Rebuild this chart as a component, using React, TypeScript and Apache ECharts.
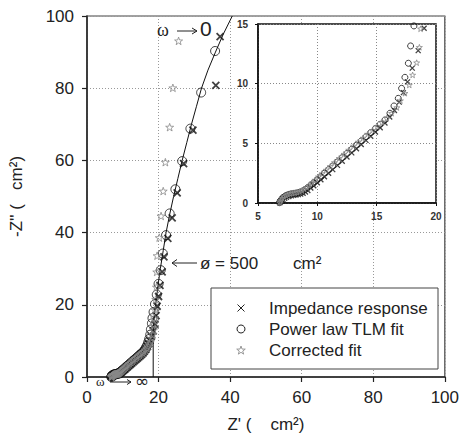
import React, { useEffect, useRef } from "react";
import * as echarts from "echarts";

// [Z', -Z''] pairs
const impedanceResponse: [number, number][] = [
  [37.2, 94.3], [36.0, 80.8], [29.6, 68.4], [27.0, 59.1], [25.2, 51.0], [23.8, 44.1],
  [22.6, 38.4], [21.5, 33.3], [21.0, 29.1], [20.4, 25.4], [20.0, 22.3], [19.6, 19.6], [19.3, 17.0],
  [19.0, 14.64], [18.5, 12.77], [18.0, 11.3], [17.6, 10.15], [17.25, 9.25], [16.9, 8.45],
  [16.5, 7.75], [16.1, 7.2], [15.7, 6.7], [15.3, 6.3], [14.9, 5.95], [14.5, 5.6], [14.1, 5.25],
  [13.7, 4.9], [13.3, 4.55], [12.9, 4.2], [12.5, 3.85], [12.1, 3.5], [11.7, 3.15], [11.3, 2.8],
  [10.95, 2.5], [10.6, 2.2], [10.3, 1.95], [10.0, 1.7], [9.7, 1.45], [9.45, 1.25], [9.2, 1.05],
  [9.0, 0.92], [8.8, 0.82], [8.6, 0.75], [8.4, 0.7], [8.2, 0.67], [8.0, 0.64], [7.8, 0.6],
  [7.6, 0.55], [7.4, 0.48], [7.25, 0.4], [7.1, 0.3], [7.0, 0.2], [6.9, 0.1], [6.85, 0.03],
];

const powerLawTlmFit: [number, number][] = [
  [35.8, 90.3], [31.9, 78.8], [28.9, 68.8], [26.6, 59.8], [24.7, 52.0], [23.1, 45.3],
  [22.1, 39.3], [21.2, 34.2], [20.6, 29.6], [20.0, 25.8], [19.5, 22.8], [19.0, 20.2],
  [18.6, 18.0], [18.3, 16.3],
  [18.14, 14.84], [17.86, 13.16], [17.67, 11.71], [17.38, 10.53], [17.1, 9.61], [16.82, 8.77],
  [16.46, 8.13], [16.12, 7.52], [15.7, 6.96], [15.3, 6.6], [14.9, 6.25], [14.5, 5.9],
  [14.1, 5.55], [13.7, 5.2], [13.3, 4.85], [12.9, 4.5], [12.5, 4.15], [12.1, 3.8], [11.7, 3.45],
  [11.3, 3.1], [10.95, 2.8], [10.6, 2.5], [10.3, 2.2], [10.0, 1.95], [9.7, 1.7], [9.45, 1.5],
  [9.2, 1.3], [9.0, 1.15], [8.8, 1.02], [8.6, 0.93], [8.4, 0.87], [8.2, 0.83], [8.0, 0.8],
  [7.8, 0.77], [7.6, 0.72], [7.4, 0.65], [7.25, 0.55], [7.1, 0.45], [7.0, 0.33], [6.9, 0.2],
  [6.85, 0.1], [6.8, 0.03],
];

const correctedFit: [number, number][] = [
  [25.6, 93.1], [24.0, 80.1], [23.1, 69.2], [21.9, 59.5], [21.3, 51.5], [20.7, 44.6],
  [20.2, 38.6], [19.6, 33.6], [19.5, 29.1], [19.4, 24.9], [19.2, 21.5], [19.0, 18.6], [18.85, 16.4],
  [18.7, 14.6], [18.6, 13.05], [18.37, 11.76], [18.03, 10.73], [17.75, 9.89], [17.38, 9.2],
  [17.0, 8.58], [16.7, 8.0], [16.26, 7.52], [15.85, 7.1], [15.45, 6.75], [15.05, 6.42],
  [14.65, 6.1], [14.25, 5.78], [13.85, 5.45], [13.45, 5.12], [13.05, 4.78], [12.65, 4.44],
  [12.25, 4.1], [11.85, 3.75], [11.45, 3.4], [11.1, 3.08], [10.75, 2.77], [10.4, 2.47],
  [10.1, 2.2], [9.8, 1.93], [9.55, 1.7], [9.3, 1.48], [9.1, 1.3], [8.9, 1.15], [8.7, 1.03],
  [8.5, 0.95], [8.3, 0.9], [8.1, 0.86], [7.9, 0.83], [7.7, 0.78], [7.5, 0.72], [7.35, 0.63],
  [7.2, 0.52], [7.05, 0.4], [6.95, 0.27], [6.88, 0.14], [6.82, 0.04],
];

const fitLine: [number, number][] = [
  [18.5, 0], [18.5, 12], [18.7, 16], [19.2, 20], [19.8, 25], [20.5, 30], [21.3, 35], [22.1, 40],
  [23.1, 45], [24.2, 50], [25.4, 55], [26.6, 60], [27.9, 65], [29.2, 70], [30.6, 75], [32.0, 80],
  [33.8, 85], [35.9, 90], [38.1, 95], [40.6, 100],
];

const legendLabels = ["Impedance response", "Power law TLM fit", "Corrected fit"];

const crossPath = "path://M0,0L10,10M10,0L0,10";
const starPath =
  "path://M50,2L61.17,34.63L95.65,35.17L68.07,55.87L78.21,88.83L50,69L21.79,88.83L31.93,55.87L4.35,35.17L38.83,34.63Z";

const FONT = "'Liberation Sans', Arial, sans-serif";

function starPoints(cx: number, cy: number, r: number): number[][] {
  const pts: number[][] = [];
  for (let i = 0; i < 10; i++) {
    const rr = i % 2 === 0 ? r : r * 0.4;
    const a = -Math.PI / 2 + (i * Math.PI) / 5;
    pts.push([cx + rr * Math.cos(a), cy + rr * Math.sin(a)]);
  }
  return pts;
}

export default function App() {
  const ref = useRef<HTMLDivElement>(null);
  useEffect(() => {
    if (!ref.current) return;
    const chart = echarts.init(ref.current, undefined, { renderer: "svg" });
    const dotted = [1, 2];
    const mainAxisCommon = {
      type: "value",
      axisLine: { show: true, onZero: false, lineStyle: { color: "#222", width: 1.5 } },
      axisTick: { show: true, length: 5, lineStyle: { color: "#222", width: 1.2 } },
      axisLabel: { fontSize: 17, color: "#222", fontFamily: FONT },
      splitLine: { show: true, lineStyle: { color: "#999", type: dotted, width: 1 } },
      nameLocation: "middle",
      nameTextStyle: { fontSize: 17, color: "#222", fontFamily: FONT },
    };
    const insetAxisCommon = {
      type: "value",
      z: 4,
      axisLine: { show: true, onZero: false, lineStyle: { color: "#111", width: 1.5 } },
      axisTick: { show: true, length: 3, lineStyle: { color: "#111", width: 1 } },
      axisLabel: { fontSize: 10, fontWeight: "bold", color: "#333", fontFamily: FONT },
      splitLine: { show: true, lineStyle: { color: "#888", type: dotted, width: 1 } },
    };
    const mk = (gi: number, small: boolean) => [
      {
        type: "scatter",
        xAxisIndex: gi,
        yAxisIndex: gi,
        z: gi ? 5 : 2,
        data: impedanceResponse,
        symbol: crossPath,
        symbolSize: small ? 5 : 7,
        itemStyle: { color: "transparent", borderColor: "#111", borderWidth: small ? 1.3 : 1.8 },
      },
      {
        type: "scatter",
        xAxisIndex: gi,
        yAxisIndex: gi,
        z: gi ? 5 : 2,
        data: powerLawTlmFit,
        symbol: "circle",
        symbolSize: small ? 6 : 9,
        itemStyle: { color: "transparent", borderColor: "#111", borderWidth: 1 },
      },
      {
        type: "scatter",
        xAxisIndex: gi,
        yAxisIndex: gi,
        z: gi ? 5 : 2,
        data: correctedFit,
        symbol: starPath,
        symbolKeepAspect: true,
        symbolSize: small ? 6 : 8,
        itemStyle: { color: "transparent", borderColor: "#888", borderWidth: 1 },
      },
    ];
    const lbl = (text: string, x: number, y: number, size: number, family = FONT, align = "left") => ({
      type: "text",
      z: 20,
      x,
      y,
      style: { text, fontSize: size, fontFamily: family, fill: "#222", align, verticalAlign: "middle" },
    });
    const seg = (x1: number, y1: number, x2: number, y2: number) => ({
      type: "line",
      z: 20,
      shape: { x1, y1, x2, y2 },
      style: { stroke: "#222", lineWidth: 1 },
    });
    const head = (pts: number[][]) => ({
      type: "polyline",
      z: 20,
      shape: { points: pts },
      style: { stroke: "#222", lineWidth: 1, fill: "none" },
    });
    const option = {
      animation: false,
      backgroundColor: "#fff",
      textStyle: { fontFamily: FONT },
      grid: [
        { left: 86, top: 16, width: 361, height: 361, show: true, borderColor: "#444", borderWidth: 1.2, backgroundColor: "transparent", z: 0 },
        { left: 258, top: 24, width: 178, height: 179, show: true, borderColor: "#111", borderWidth: 1.5, backgroundColor: "#fff", z: 3 },
      ],
      xAxis: [
        { ...mainAxisCommon, gridIndex: 0, min: 0, max: 100, interval: 20, name: "Z' (    cm²)", nameGap: 39, axisLabel: { ...mainAxisCommon.axisLabel, margin: 12 } },
        { ...insetAxisCommon, gridIndex: 1, min: 5, max: 20, interval: 5, axisLabel: { ...insetAxisCommon.axisLabel, margin: 8 } },
      ],
      yAxis: [
        { ...mainAxisCommon, gridIndex: 0, min: 0, max: 100, interval: 20, name: "-Z'' (   cm²)", nameGap: 62, nameRotate: 90, axisLabel: { ...mainAxisCommon.axisLabel, margin: 13 } },
        { ...insetAxisCommon, gridIndex: 1, min: 0, max: 15, interval: 5, axisLabel: { ...insetAxisCommon.axisLabel, margin: 10 } },
      ],
      series: [
        {
          type: "line",
          xAxisIndex: 0,
          yAxisIndex: 0,
          z: 1,
          data: fitLine,
          showSymbol: false,
          symbol: "none",
          lineStyle: { color: "#111", width: 1 },
        },
        ...mk(0, false),
        ...mk(1, true),
      ],
      graphic: [
        {
          type: "rect",
          z: 15,
          shape: { x: 211, y: 288, width: 227, height: 81 },
          style: { fill: "#fff", stroke: "#444", lineWidth: 1 },
        },
        seg(237.5, 304.5, 244.5, 311.5),
        seg(244.5, 304.5, 237.5, 311.5),
        {
          type: "circle",
          z: 20,
          shape: { cx: 241, cy: 329, r: 4 },
          style: { fill: "none", stroke: "#222", lineWidth: 1 },
        },
        {
          type: "polygon",
          z: 20,
          shape: { points: starPoints(241, 350.5, 4.5) },
          style: { fill: "none", stroke: "#999", lineWidth: 1 },
        },
        lbl(legendLabels[0], 269, 308, 17),
        lbl(legendLabels[1], 269, 329, 17),
        lbl(legendLabels[2], 269, 350, 17),
        // ω → 0
        lbl("ω", 157, 30, 18, "'Liberation Serif', 'DejaVu Serif', serif"),
        seg(177, 31, 197, 31),
        head([[192, 28], [197, 31], [192, 34]]),
        lbl("0", 200, 28, 21),
        // ← ø = 500 cm²
        seg(172, 263, 197, 263),
        head([[177, 259.5], [172, 263], [177, 266.5]]),
        lbl("ø = 500", 200, 263, 17),
        lbl("cm²", 293, 263, 17),
        // ω → ∞
        lbl("ω", 96, 381, 13, "'Liberation Serif', 'DejaVu Serif', serif"),
        seg(110, 382, 131, 382),
        head([[127, 379.5], [131, 382], [127, 384.5]]),
        lbl("∞", 135, 381, 17, "'DejaVu Sans', sans-serif"),
      ],
    };
    chart.setOption(option as any);
    return () => chart.dispose();
  }, []);
  return <div ref={ref} style={{ position: "fixed", left: 0, top: 0, width: 462, height: 444 }} />;
}
